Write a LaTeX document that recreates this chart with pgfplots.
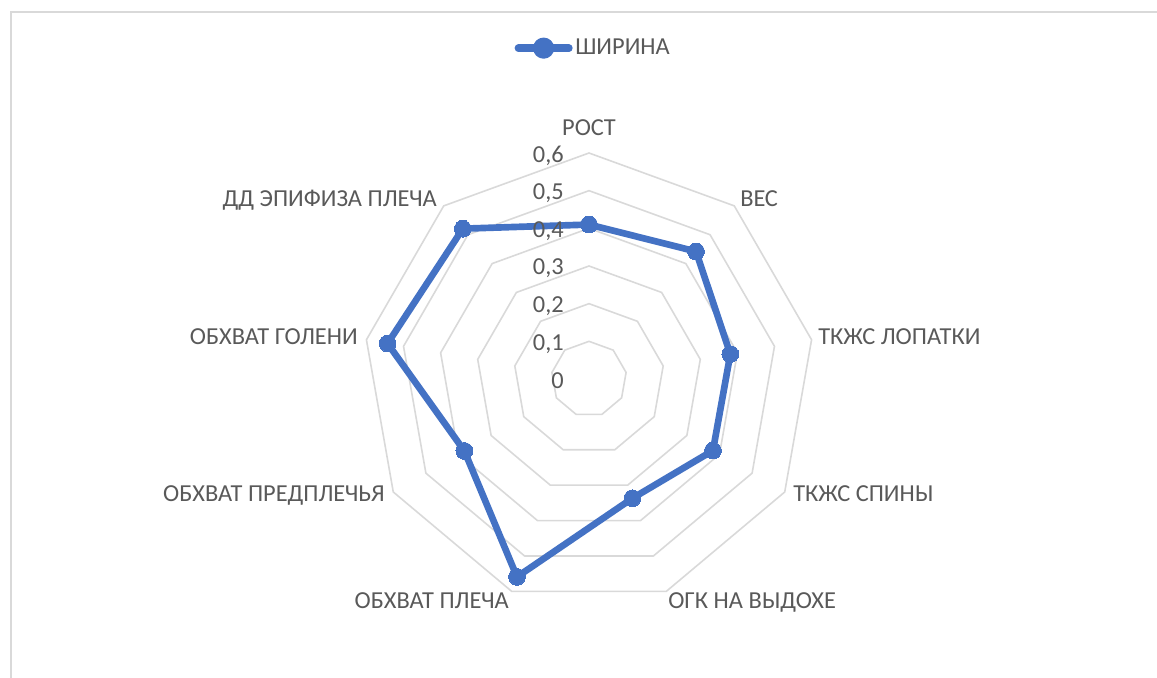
\documentclass[border=0pt]{standalone}
\usepackage{pgfplots}
\pgfplotsset{compat=1.18}
\usepgfplotslibrary{polar}
\usepackage{fontspec}
\setmainfont{Carlito}
\definecolor{exblue}{HTML}{4472C4}
\definecolor{txtgray}{HTML}{595959}
\definecolor{gridgray}{HTML}{D9D9D9}
\begin{document}
\begin{tikzpicture}
\path[use as bounding box] (0,0) rectangle (867.75pt,508.5pt);
\begin{polaraxis}[
  at={(441.75pt,224.25pt)}, anchor=center,
  scale only axis, width=339pt, height=339pt,
  ymin=0, ymax=0.6, xmin=0, xmax=360,
  hide axis, clip=false,
  legend style={at={(0.51,1.232)}, anchor=center, draw=none, fill=none,
    font=\fontsize{18.3}{21}\selectfont, text=txtgray, inner sep=0pt},
  legend image code/.code={
    \draw[line width=5.5pt, color=exblue, line cap=round] (0pt,0pt) -- (38pt,0pt);
    \fill[exblue] (19pt,0pt) circle (5.4pt);},
]
\foreach \r in {0.1,0.2,0.3,0.4,0.5,0.6}{
  \edef\temp{\noexpand\addplot[gridgray, line width=1.2pt, line join=miter, no marks, forget plot]
    coordinates {(90,\r) (50,\r) (10,\r) (-30,\r) (-70,\r) (-110,\r) (-150,\r) (-190,\r) (-230,\r) (-270,\r) (-310,\r)};}
  \temp
}
\addplot[exblue, line width=5pt, line join=round, mark=*, mark size=6.3pt,
  mark options={fill=exblue, draw=exblue, line width=0pt}]
  coordinates {(90,0.41) (50,0.442) (10,0.381) (-30,0.38) (-70,0.337) (-110,0.559) (-150,0.382) (-190,0.543) (-230,0.521) (-270,0.41)};
\addlegendentry{ШИРИНА}
\end{polaraxis}
\begin{scope}[x=0.75pt,y=-0.75pt,yshift=508.5pt]
\draw[gridgray, line width=1.5pt] (10.7,700) -- (10.7,12) -- (1200,12);
\begin{scope}[every node/.style={inner sep=0pt, text=txtgray, font=\fontsize{18.3}{21}\selectfont}]
\node[anchor=base] at (589,136) {РОСТ};
\node[anchor=base west] at (740,207) {ВЕС};
\node[anchor=base west] at (818,345) {ТКЖС ЛОПАТКИ};
\node[anchor=base west] at (793,502) {ТКЖС СПИНЫ};
\node[anchor=base west] at (668,609) {ОГК НА ВЫДОХЕ};
\node[anchor=base east] at (509,609) {ОБХВАТ ПЛЕЧА};
\node[anchor=base east] at (385,502) {ОБХВАТ ПРЕДПЛЕЧЬЯ};
\node[anchor=base east] at (358,345) {ОБХВАТ ГОЛЕНИ};
\node[anchor=base east] at (437,207) {ДД ЭПИФИЗА ПЛЕЧА};
\node[anchor=base east] at (564,163) {0,6};
\node[anchor=base east] at (564,200) {0,5};
\node[anchor=base east] at (564,238) {0,4};
\node[anchor=base east] at (564,275) {0,3};
\node[anchor=base east] at (564,313) {0,2};
\node[anchor=base east] at (564,351) {0,1};
\node[anchor=base east] at (564,388.5) {0};
\end{scope}
\end{scope}
\end{tikzpicture}
\end{document}
